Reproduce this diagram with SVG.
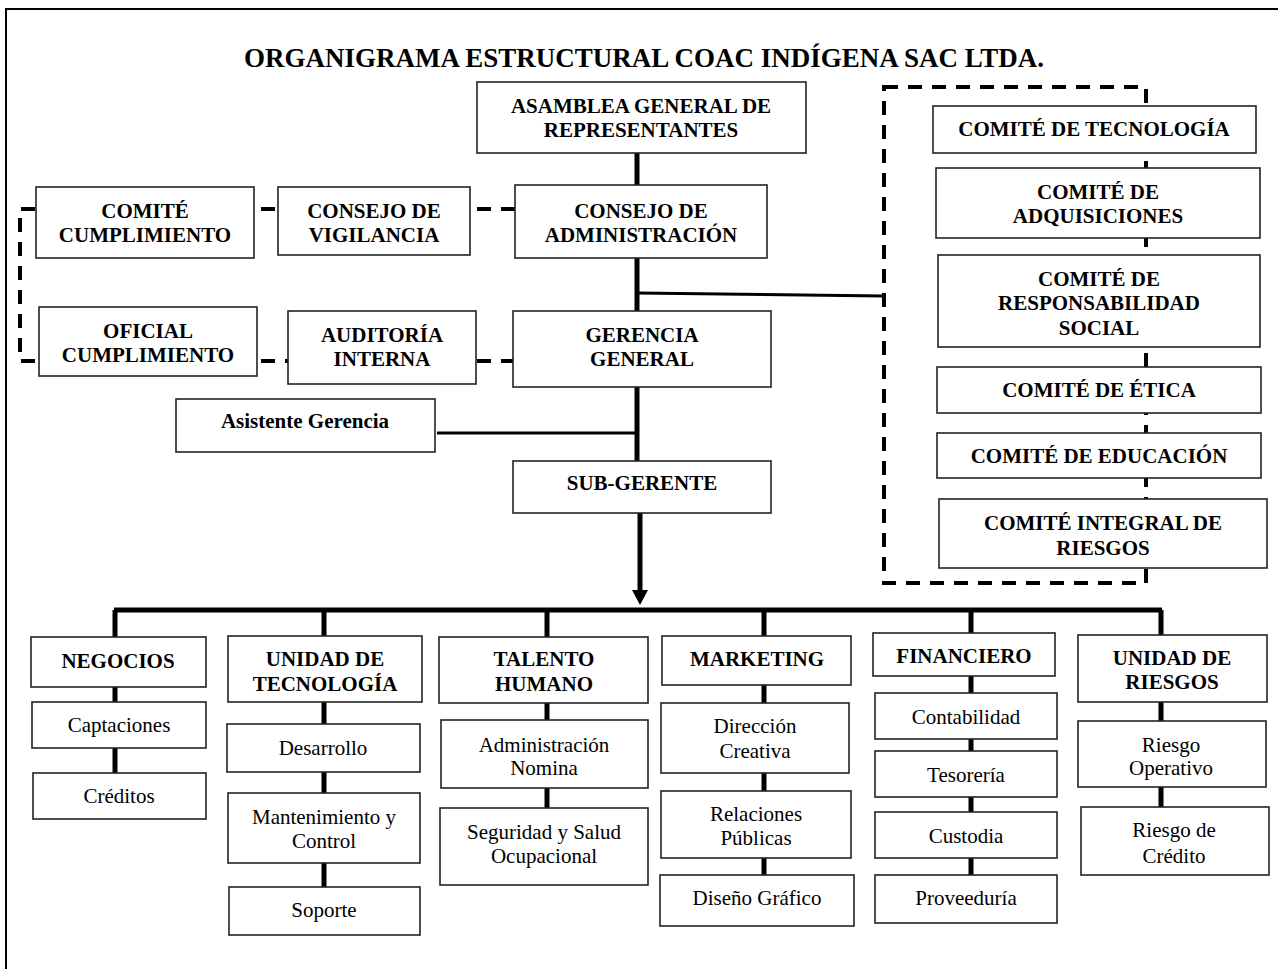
<svg xmlns="http://www.w3.org/2000/svg" width="1278" height="969" viewBox="0 0 1278 969">
<style>
.box{fill:#fff;stroke:#222;stroke-width:1.6}
.b{font-family:"Liberation Serif","Times New Roman",serif;font-size:21px;font-weight:bold;text-anchor:middle;fill:#000}
.r{font-family:"Liberation Serif","Times New Roman",serif;font-size:21px;font-weight:normal;text-anchor:middle;fill:#000}
.title{font-size:27px}
.thick{stroke:#000;stroke-width:5;fill:none}
.thin{stroke:#000;stroke-width:3;fill:none}
.dash{stroke:#000;stroke-width:4;stroke-dasharray:14 10;fill:none}
</style>
<rect x="0" y="0" width="1278" height="969" fill="#fff"/>
<rect x="6" y="9" width="1290" height="980" fill="none" stroke="#000" stroke-width="2"/>
<text class="b title" x="644" y="67">ORGANIGRAMA ESTRUCTURAL COAC INDÍGENA SAC LTDA.</text>

<g id="connectors">
  <path class="dash" d="M515 209 H20 V361 H513"/>
  <rect class="dash" x="884" y="87" width="262" height="496"/>
  <path class="thick" d="M637 153 V461"/>
  <path class="thick" d="M640 513 V592" stroke-width="6"/>
  <polygon points="632,590 648,590 640,605" fill="#000"/>
  <path class="thin" d="M437 433 H637"/>
  <path class="thin" d="M637 293 L884 296"/>
  <path class="thick" d="M114 610 H1162" stroke-width="6"/>
  <path class="thick" d="M115 610 V773"/>
  <path class="thick" d="M324 610 V887"/>
  <path class="thick" d="M547 610 V808"/>
  <path class="thick" d="M764 610 V875"/>
  <path class="thick" d="M971 610 V875"/>
  <path class="thick" d="M1161 610 V807"/>
</g>

<g id="asamblea"><rect class="box" x="477" y="82" width="329" height="71"/><text class="b" x="641" y="113">ASAMBLEA GENERAL DE</text><text class="b" x="641" y="137">REPRESENTANTES</text></g>
<g id="consejo-admin"><rect class="box" x="515" y="185" width="252" height="73"/><text class="b" x="641" y="218">CONSEJO DE</text><text class="b" x="641" y="242">ADMINISTRACIÓN</text></g>
<g id="consejo-vigilancia"><rect class="box" x="278" y="187" width="192" height="68"/><text class="b" x="374" y="218">CONSEJO DE</text><text class="b" x="374" y="242">VIGILANCIA</text></g>
<g id="comite-cumplimiento"><rect class="box" x="36" y="187" width="218" height="71"/><text class="b" x="145" y="218">COMITÉ</text><text class="b" x="145" y="242">CUMPLIMIENTO</text></g>
<g id="oficial-cumplimiento"><rect class="box" x="39" y="307" width="218" height="69"/><text class="b" x="148" y="338">OFICIAL</text><text class="b" x="148" y="362">CUMPLIMIENTO</text></g>
<g id="auditoria"><rect class="box" x="288" y="311" width="188" height="73"/><text class="b" x="382" y="342">AUDITORÍA</text><text class="b" x="382" y="366">INTERNA</text></g>
<g id="gerencia"><rect class="box" x="513" y="311" width="258" height="76"/><text class="b" x="642" y="342">GERENCIA</text><text class="b" x="642" y="366">GENERAL</text></g>
<g id="asistente"><rect class="box" x="176" y="399" width="259" height="53"/><text class="b" x="305" y="428">Asistente Gerencia</text></g>
<g id="subgerente"><rect class="box" x="513" y="461" width="258" height="52"/><text class="b" x="642" y="490">SUB-GERENTE</text></g>

<g id="comite-tecnologia"><rect class="box" x="933" y="106" width="323" height="47"/><text class="b" x="1094" y="136">COMITÉ DE TECNOLOGÍA</text></g>
<g id="comite-adquisiciones"><rect class="box" x="936" y="168" width="324" height="70"/><text class="b" x="1098" y="199">COMITÉ DE</text><text class="b" x="1098" y="223">ADQUISICIONES</text></g>
<g id="comite-responsabilidad"><rect class="box" x="938" y="255" width="322" height="92"/><text class="b" x="1099" y="286">COMITÉ DE</text><text class="b" x="1099" y="310">RESPONSABILIDAD</text><text class="b" x="1099" y="335">SOCIAL</text></g>
<g id="comite-etica"><rect class="box" x="937" y="367" width="324" height="46"/><text class="b" x="1099" y="397">COMITÉ DE ÉTICA</text></g>
<g id="comite-educacion"><rect class="box" x="937" y="433" width="324" height="45"/><text class="b" x="1099" y="463">COMITÉ DE EDUCACIÓN</text></g>
<g id="comite-riesgos"><rect class="box" x="939" y="499" width="328" height="69"/><text class="b" x="1103" y="530">COMITÉ INTEGRAL DE</text><text class="b" x="1103" y="555">RIESGOS</text></g>

<g id="negocios"><rect class="box" x="31" y="637" width="175" height="50"/><text class="b" x="118" y="668">NEGOCIOS</text></g>
<g id="captaciones"><rect class="box" x="32" y="702" width="174" height="46"/><text class="r" x="119" y="732">Captaciones</text></g>
<g id="creditos"><rect class="box" x="33" y="773" width="173" height="46"/><text class="r" x="119" y="803">Créditos</text></g>

<g id="unidad-tecnologia"><rect class="box" x="228" y="636" width="194" height="66"/><text class="b" x="325" y="666">UNIDAD DE</text><text class="b" x="325" y="691">TECNOLOGÍA</text></g>
<g id="desarrollo"><rect class="box" x="227" y="724" width="193" height="48"/><text class="r" x="323" y="755">Desarrollo</text></g>
<g id="mantenimiento"><rect class="box" x="228" y="793" width="192" height="70"/><text class="r" x="324" y="824">Mantenimiento y</text><text class="r" x="324" y="848">Control</text></g>
<g id="soporte"><rect class="box" x="229" y="887" width="191" height="48"/><text class="r" x="324" y="917">Soporte</text></g>

<g id="talento"><rect class="box" x="439" y="637" width="209" height="66"/><text class="b" x="544" y="666">TALENTO</text><text class="b" x="544" y="691">HUMANO</text></g>
<g id="administracion"><rect class="box" x="441" y="720" width="207" height="68"/><text class="r" x="544" y="752">Administración</text><text class="r" x="544" y="775">Nomina</text></g>
<g id="seguridad"><rect class="box" x="440" y="808" width="208" height="77"/><text class="r" x="544" y="839">Seguridad y Salud</text><text class="r" x="544" y="863">Ocupacional</text></g>

<g id="marketing"><rect class="box" x="662" y="636" width="189" height="49"/><text class="b" x="757" y="666">MARKETING</text></g>
<g id="direccion"><rect class="box" x="661" y="703" width="188" height="70"/><text class="r" x="755" y="733">Dirección</text><text class="r" x="755" y="758">Creativa</text></g>
<g id="relaciones"><rect class="box" x="661" y="791" width="190" height="67"/><text class="r" x="756" y="821">Relaciones</text><text class="r" x="756" y="845">Públicas</text></g>
<g id="diseno"><rect class="box" x="660" y="875" width="194" height="51"/><text class="r" x="757" y="905">Diseño Gráfico</text></g>

<g id="financiero"><rect class="box" x="873" y="633" width="182" height="43"/><text class="b" x="964" y="663">FINANCIERO</text></g>
<g id="contabilidad"><rect class="box" x="875" y="693" width="182" height="46"/><text class="r" x="966" y="724">Contabilidad</text></g>
<g id="tesoreria"><rect class="box" x="875" y="751" width="182" height="46"/><text class="r" x="966" y="782">Tesorería</text></g>
<g id="custodia"><rect class="box" x="875" y="812" width="182" height="46"/><text class="r" x="966" y="843">Custodia</text></g>
<g id="proveeduria"><rect class="box" x="875" y="875" width="182" height="48"/><text class="r" x="966" y="905">Proveeduría</text></g>

<g id="unidad-riesgos"><rect class="box" x="1078" y="635" width="189" height="67"/><text class="b" x="1172" y="665">UNIDAD DE</text><text class="b" x="1172" y="689">RIESGOS</text></g>
<g id="riesgo-operativo"><rect class="box" x="1078" y="721" width="188" height="66"/><text class="r" x="1171" y="752">Riesgo</text><text class="r" x="1171" y="775">Operativo</text></g>
<g id="riesgo-credito"><rect class="box" x="1081" y="807" width="188" height="68"/><text class="r" x="1174" y="837">Riesgo de</text><text class="r" x="1174" y="863">Crédito</text></g>
</svg>
